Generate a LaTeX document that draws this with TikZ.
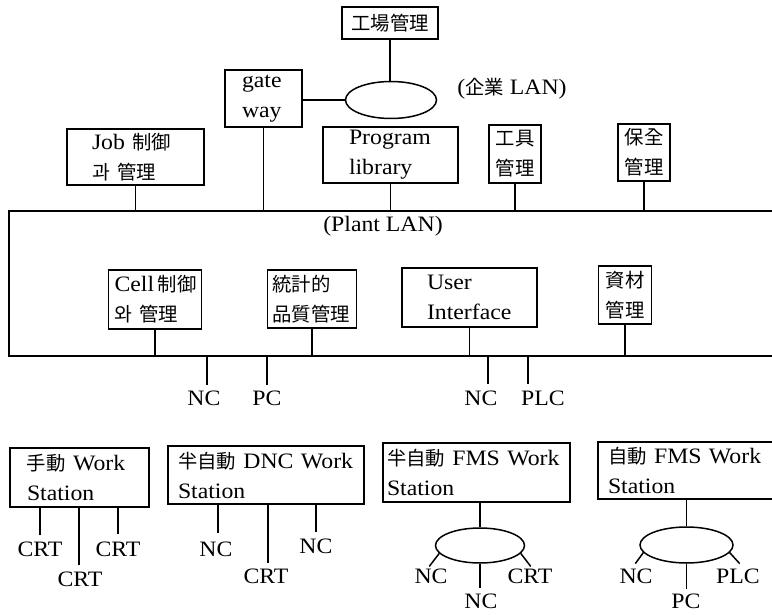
\documentclass[tikz,border=0pt]{standalone}
\usepackage{fontspec}
\setmainfont{Liberation Serif}[FakeStretch=1.08]
\newfontfamily\cjk[Scale=0.88]{Noto Sans CJK KR}
\newcommand\cj[1]{{\cjk #1}}
\usetikzlibrary{shapes.geometric}
\begin{document}
\begin{tikzpicture}[x=1pt,y=-1pt,
  every node/.style={font=\fontsize{22}{30}\selectfont},
  box/.style={draw, line width=1.5pt, inner ysep=0pt, align=left},
  cbox/.style={draw, line width=1.5pt, inner ysep=0pt, inner xsep=0pt, align=center},
  lan/.style={draw, ellipse, line width=1.5pt, inner sep=0pt},
  wire/.style={line width=1.5pt},
  lbl/.style={inner sep=0pt}]
\useasboundingbox[fill=white] (0,0) rectangle (772,615);

% ---------- enterprise level ----------
\node[cbox, minimum width=96pt, minimum height=32pt] (fac) at (390,23) {\cj{工場管理}};
\node[lan, minimum width=91pt, minimum height=37pt] (clan) at (391,100) {};
\node[box, minimum height=57pt, inner xsep=17pt, text width=43pt] (gw) at (263.5,98.5) {gate\\way};
\node[lbl] (clanlbl) at (512,89) {(\cj{企業} LAN)};
\draw[wire] (fac.south) -- (fac.south |- clan.north);
\draw[wire] (gw.east |- clan.west) -- (clan.west);

% ---------- plant level boxes ----------
\node[box, minimum height=56pt, inner xsep=25pt, text width=87pt] (job) at (135.5,157) {\mbox{Job \cj{制御}}\\\cj{과 管理}};
\node[box, minimum height=56pt, inner xsep=26pt, text width=83pt] (prog) at (390.5,155) {Program\\library};
\node[cbox, minimum width=52pt, minimum height=58pt] (tool) at (515,154) {\cj{工具}\\\cj{管理}};
\node[cbox, minimum width=52pt, minimum height=57pt] (maint) at (644,152.5) {\cj{保全}\\\cj{管理}};

% ---------- plant LAN ----------
\coordinate (lanT) at (9,211);
\coordinate (lanB) at (9,356);
\coordinate (lanTR) at (790,211);
\coordinate (lanBR) at (790,356);
\draw[wire] (lanTR) -- (lanT) -- (lanB) -- (lanBR);
\node[lbl] (plantlbl) at (383,226) {(Plant LAN)};

\draw[wire] (job.south) -- (job.south |- lanT);
\draw[wire] (gw.south) -- (gw.south |- lanT);
\draw[wire] (prog.south) -- (prog.south |- lanT);
\draw[wire] (tool.south) -- (tool.south |- lanT);
\draw[wire] (maint.south) -- (maint.south |- lanT);

\node[box, minimum height=59pt, inner xsep=6pt, text width=81pt] (cell) at (155,299.5) {\mbox{Cell\,\cj{制御}}\\\cj{와 管理}};
\node[box, minimum height=58pt, inner xsep=5pt, text width=79pt] (stat) at (312,299) {\cj{統計的}\\\mbox{\cj{品質管理}}};
\node[box, minimum height=59pt, inner xsep=25pt, text width=85pt] (user) at (469.5,297.5) {User\\Interface};
\node[cbox, minimum width=53pt, minimum height=58pt] (mat) at (625,295) {\cj{資材}\\\cj{管理}};

\draw[wire] (cell.south) -- (cell.south |- lanB);
\draw[wire] (stat.south) -- (stat.south |- lanB);
\draw[wire] (user.south) -- (user.south |- lanB);
\draw[wire] (mat.south) -- (mat.south |- lanB);

% drops below plant LAN
\coordinate (d1) at (207,385);
\coordinate (d2) at (267,385);
\coordinate (d3) at (488,384);
\coordinate (d4) at (528,384);
\foreach \c in {d1,d2,d3,d4} \draw[wire] (\c |- lanB) -- (\c);
\node[lbl] (nc1) at (204,398) {NC};
\node[lbl] (pc1) at (267,398) {PC};
\node[lbl] (nc2) at (481,398) {NC};
\node[lbl] (plc1) at (543,398) {PLC};

% ---------- work stations ----------
\node[box, minimum height=59pt, inner xsep=17pt, text width=105pt] (man) at (79.5,477.5) {\cj{手動} Work\\Station};
\node[box, minimum height=58pt, inner xsep=10pt, text width=176pt] (dnc) at (266,475) {\cj{半自動} DNC Work\\Station};
\node[box, minimum height=59pt, inner xsep=4pt, text width=179pt] (fms1) at (476.5,472.5) {\cj{半自動} FMS Work\\Station};
\node[box, minimum height=57pt, inner xsep=10pt, text width=172pt] (fms2) at (694,470.5) {\cj{自動} FMS Work\\Station};

% manual station
\coordinate (m1) at (40,535);
\coordinate (m2) at (79,565);
\coordinate (m3) at (118,534);
\foreach \c in {m1,m2,m3} \draw[wire] (\c |- man.south) -- (\c);
\node[lbl] (crt1) at (40,549.5) {CRT};
\node[lbl] (crt2) at (80,579.5) {CRT};
\node[lbl] (crt3) at (118,549.5) {CRT};

% DNC station
\coordinate (n1) at (218,533);
\coordinate (n2) at (268,563);
\coordinate (n3) at (316,532);
\foreach \c in {n1,n2,n3} \draw[wire] (\c |- dnc.south) -- (\c);
\node[lbl] (dnc1) at (216,549.5) {NC};
\node[lbl] (dnc2) at (266,576.5) {CRT};
\node[lbl] (dnc3) at (316,546.5) {NC};

% semi-auto FMS
\node[lan, minimum width=89pt, minimum height=35pt] (fe1) at (480,545.5) {};
\draw[wire] (fe1.north |- fms1.south) -- (fe1.north);
\draw[wire] (fe1.191) -- ++(-10,13);
\draw[wire] (fe1.-11) -- ++(10,13);
\draw[wire] (fe1.south) -- ++(0,24);
\node[lbl] (f1a) at (431,576) {NC};
\node[lbl] (f1b) at (530,576) {CRT};
\node[lbl] (f1c) at (481,601) {NC};

% auto FMS
\node[lan, minimum width=93pt, minimum height=36pt] (fe2) at (686.5,545) {};
\draw[wire] (fe2.north |- fms2.south) -- (fe2.north);
\draw[wire] (fe2.190) -- ++(-8,11);
\draw[wire] (fe2.-10) -- ++(10,11);
\draw[wire] (fe2.south) -- ++(0,25);
\node[lbl] (f2a) at (636,576) {NC};
\node[lbl] (f2b) at (686,601) {PC};
\node[lbl] (f2c) at (738,576) {PLC};
\end{tikzpicture}
\end{document}
